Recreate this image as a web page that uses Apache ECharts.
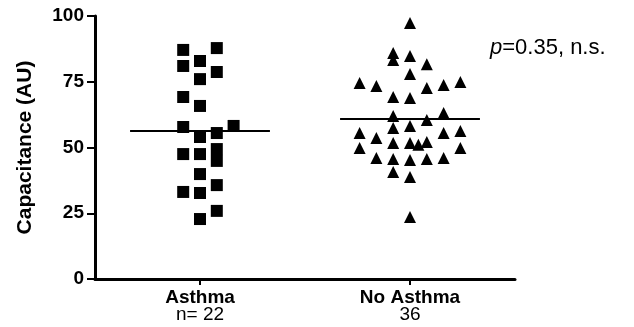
<!DOCTYPE html>
<html>
<head>
<meta charset="utf-8">
<script src="https://cdn.jsdelivr.net/npm/echarts@6/dist/echarts.min.js"></script>
<style>html,body{margin:0;padding:0;background:#fff}#c{width:634px;height:327px}</style>
</head>
<body>
<div id="c"></div>
<script>
// ---- data ----
const categories = ['Asthma', 'No Asthma'];
const sampleSizes = ['n= 22', '36'];
const yTicks = [0, 25, 50, 75, 100];
// Asthma: values and their jitter column (in marker widths from the category centre)
const asthmaValues = [87.1, 81.0, 69.2, 57.8, 47.5, 33.1,
                      82.9, 76.0, 65.8, 54.0, 47.5, 39.9, 32.7, 22.8,
                      87.8, 78.7, 55.5, 49.4, 44.9, 35.7, 25.9,
                      58.2];
const asthmaCols   = [-1, -1, -1, -1, -1, -1,
                      0, 0, 0, 0, 0, 0, 0, 0,
                      1, 1, 1, 1, 1, 1, 1,
                      2];
const noAsthmaValues = [97.3, 85.9, 83.3, 84.8, 81.7, 77.9, 74.5, 73.4, 72.6, 73.8,
                        74.9, 69.2, 68.8, 62.0, 60.5, 63.1, 58.2, 57.4, 55.5, 53.6,
                        55.5, 56.3, 51.7, 51.7, 51.0, 52.1, 49.8, 49.8, 46.0, 45.6,
                        45.2, 45.6, 46.0, 40.7, 38.8, 23.6];
const noAsthmaCols   = [0, -1, -1, 0, 1, 0, -3, -2, 1, 2,
                        3, -1, 0, -1, 1, 2, 0, -1, -3, -2,
                        2, 3, -1, 0, 0.5, 1, -3, 3, -2, -1,
                        0, 1, 2, -1, 0, 0];
const means = [56.3, 60.8];
const pText = 'p=0.35, n.s.';

// ---- build ----
const colStep = 0.08;      // jitter step in category units
const meanHalf = 0.333;    // half length of mean bar in category units
function pts(ci, vals, cols) {
  return vals.map((v, i) => [ci + 0.5 + cols[i] * colStep, v]);
}
function meanLine(ci) {
  return [[ci + 0.5 - meanHalf, means[ci]], [ci + 0.5 + meanHalf, means[ci]]];
}
const font = 'Liberation Sans, Arial, sans-serif';
const chart = echarts.init(document.getElementById('c'), null, {renderer: 'canvas'});
chart.setOption({
  animation: false,
  backgroundColor: '#fff',
  grid: {left: 95, right: 119, top: 16, bottom: 48, containLabel: false},
  xAxis: [{
    type: 'category',
    data: categories,
    boundaryGap: true,
    axisLine: {show: true, lineStyle: {color: '#000', width: 3}},
    axisTick: {show: true, alignWithLabel: true, length: 6, lineStyle: {color: '#000', width: 2}},
    axisLabel: {
      margin: 10,
      formatter: (v, i) => '{b|' + v + '}\n{n|' + sampleSizes[i] + '}',
      rich: {
        b: {fontFamily: font, fontWeight: 'bold', fontSize: 19, color: '#000', lineHeight: 17, align: 'center'},
        n: {fontFamily: font, fontSize: 19, color: '#000', lineHeight: 17, align: 'center'}
      }
    },
    splitLine: {show: false}
  }, {
    type: 'value', min: 0, max: 2, show: false
  }],
  yAxis: {
    type: 'value', min: yTicks[0], max: yTicks[yTicks.length - 1], interval: 25,
    name: 'Capacitance (AU)', nameLocation: 'middle', nameGap: 59,
    nameTextStyle: {fontFamily: font, fontWeight: 'bold', fontSize: 21, color: '#000'},
    axisLine: {show: true, lineStyle: {color: '#000', width: 3}},
    axisTick: {show: true, length: 8, lineStyle: {color: '#000', width: 2}},
    axisLabel: {margin: 11, fontFamily: font, fontWeight: 'bold', fontSize: 19, color: '#000'},
    splitLine: {show: false}
  },
  series: [
    {type: 'scatter', xAxisIndex: 1, data: pts(0, asthmaValues, asthmaCols), symbol: 'rect', symbolSize: 12,
     itemStyle: {color: '#000', opacity: 1}},
    {type: 'scatter', xAxisIndex: 1, data: pts(1, noAsthmaValues, noAsthmaCols), symbol: 'triangle', symbolSize: 12,
     itemStyle: {color: '#000', opacity: 1}},
    {type: 'line', xAxisIndex: 1, data: meanLine(0), symbol: 'none', lineStyle: {color: '#000', width: 2}, z: 1},
    {type: 'line', xAxisIndex: 1, data: meanLine(1), symbol: 'none', lineStyle: {color: '#000', width: 2}, z: 1}
  ],
  graphic: [{
    type: 'text', left: 490, top: 37,
    style: {
      text: '{i|p}{r|' + pText.slice(1) + '}',
      rich: {
        i: {fontFamily: font, fontStyle: 'italic', fontSize: 22, fill: '#000'},
        r: {fontFamily: font, fontSize: 22, fill: '#000'}
      }
    }
  }]
});
</script>
</body>
</html>
